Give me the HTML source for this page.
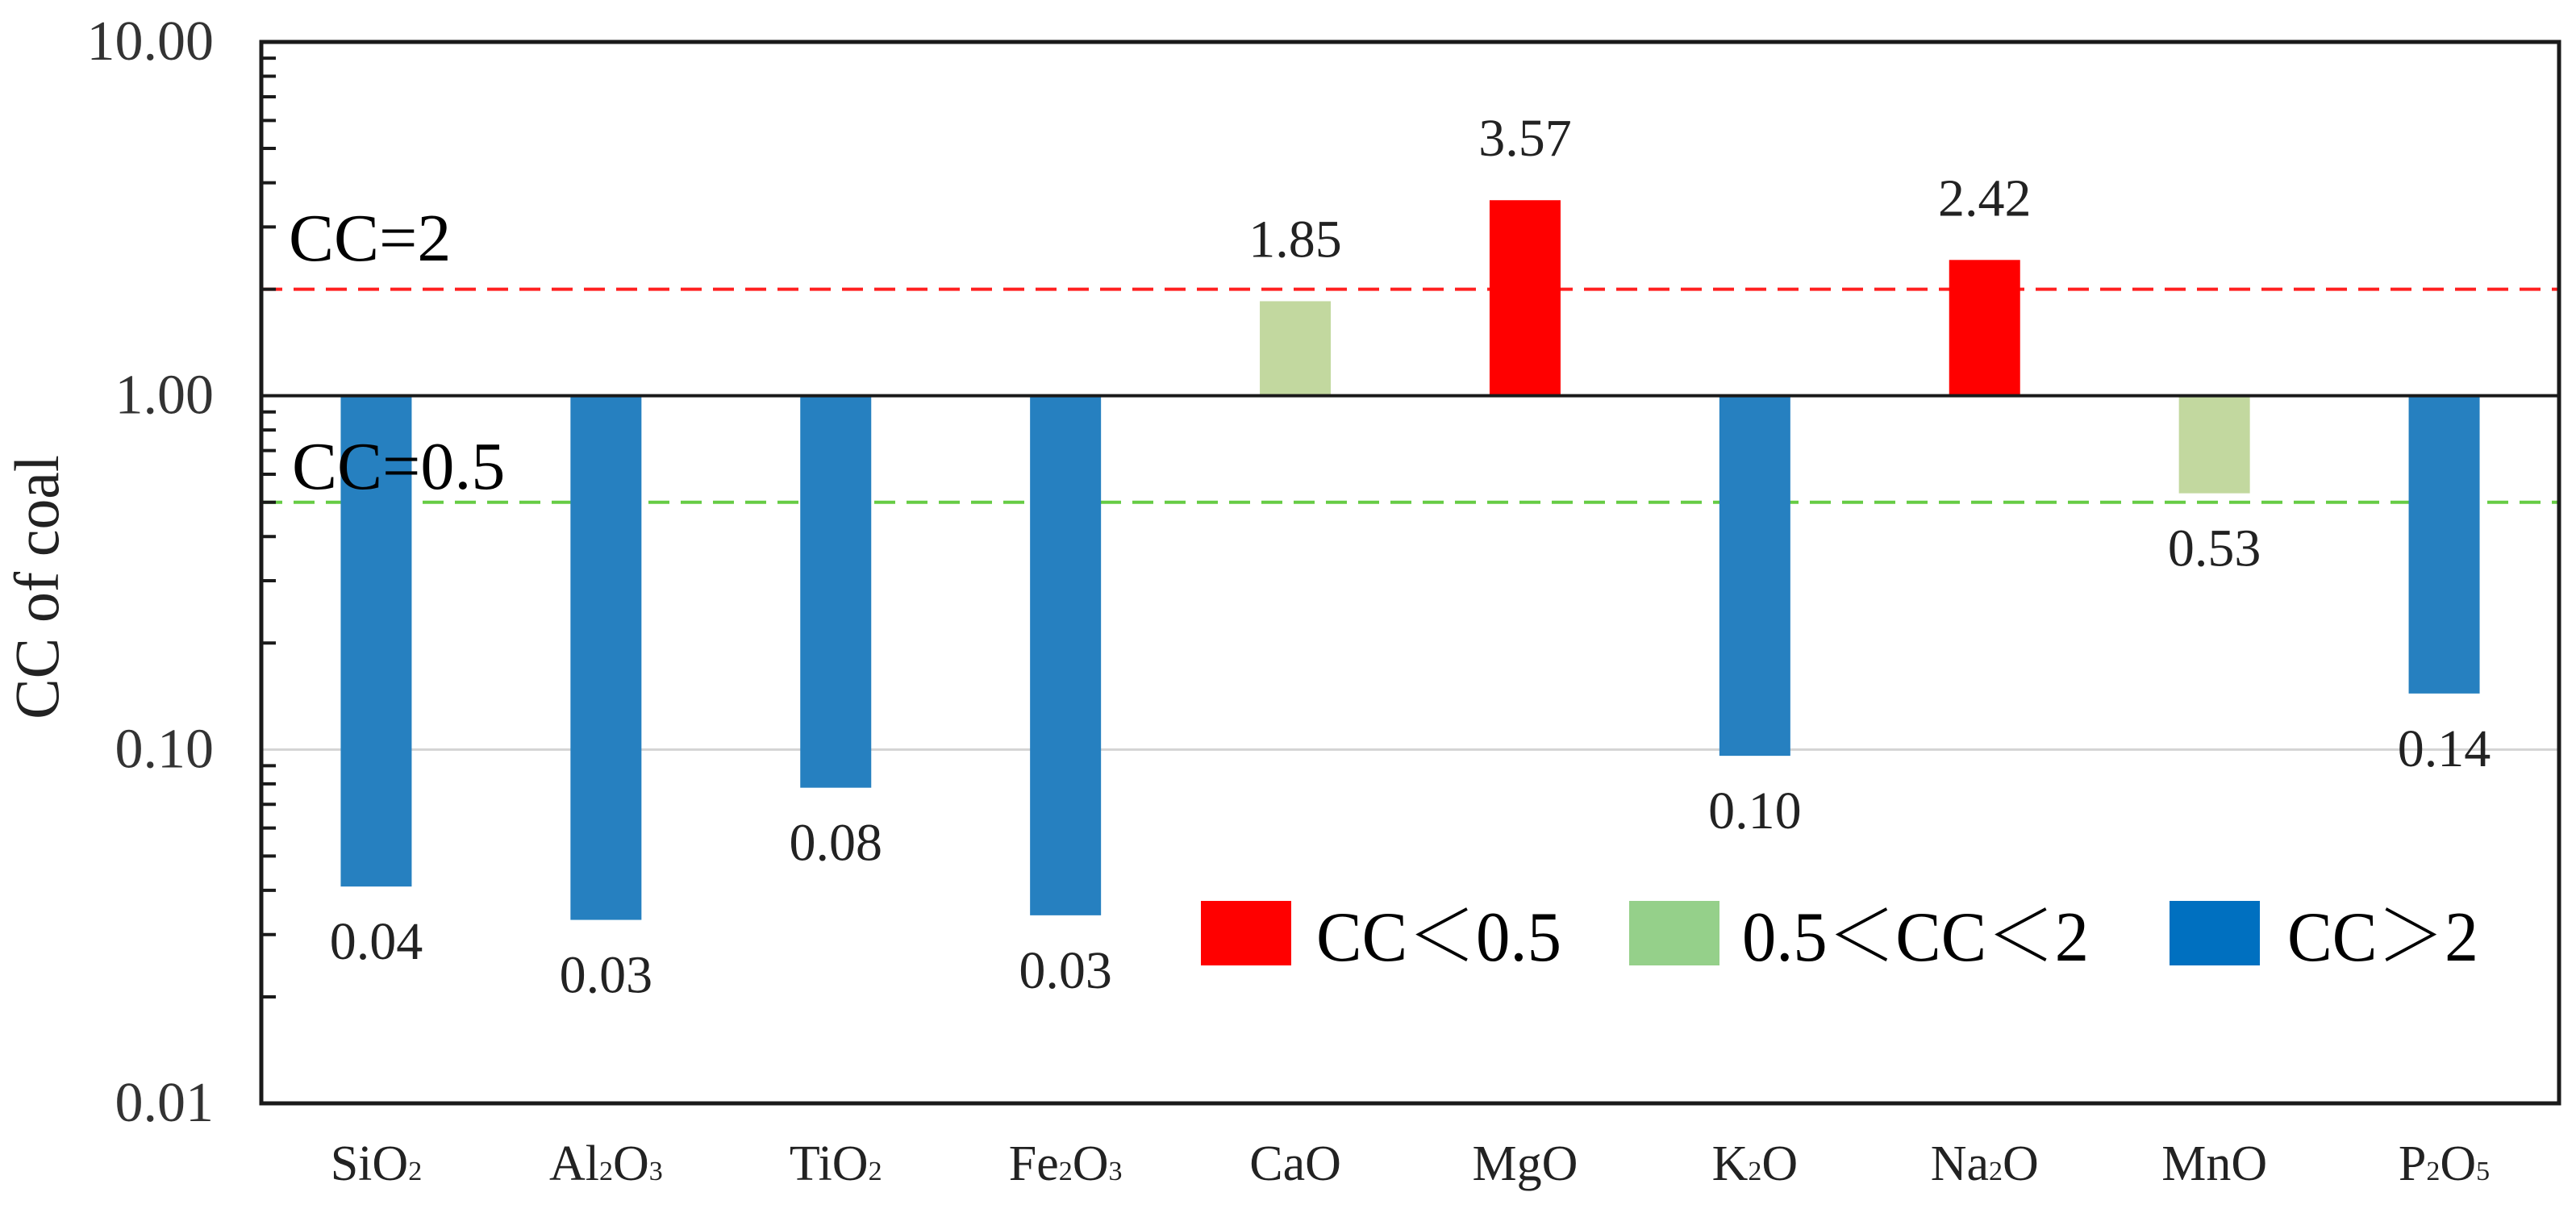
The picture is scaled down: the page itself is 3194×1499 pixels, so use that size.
<!DOCTYPE html>
<html><head><meta charset="utf-8"><title>CC of coal</title>
<style>
html,body{margin:0;padding:0;background:#fff;}
svg{display:block;}
text{font-family:"Liberation Serif","Noto Serif CJK SC",serif;}
</style></head>
<body>
<svg id="chart" width="3194" height="1499" viewBox="0 0 3194 1499" xmlns="http://www.w3.org/2000/svg">
<rect width="3194" height="1499" fill="#fff"/>
<g id="grid"></g>
<g id="bars"></g>
<g id="axes"></g>
<g id="labels"></g>
</svg>
<script>
const categories = ["SiO","Al","TiO","Fe","CaO","MgO","K","Na","MnO","P"];
const catHtml = [["SiO","2",""],["Al","2","O","3"],["TiO","2",""],["Fe","2","O","3"],["CaO"],["MgO"],["K","2","O"],["Na","2","O"],["MnO"],["P","2","O","5"]];
const values = [0.041, 0.033, 0.078, 0.034, 1.85, 3.57, 0.096, 2.42, 0.53, 0.144];
const colorClass = ["blue","blue","blue","blue","green","red","blue","red","green","blue"];
const yTicks = [10, 1, 0.1, 0.01];
const yTickLabels = ["10.00","1.00","0.10","0.01"];
const refLines = [2, 0.5];
const legendLabels = ["CC＜0.5","0.5＜CC＜2","CC＞2"];

const NS = "http://www.w3.org/2000/svg";
const L = 324, R = 3173, T = 52, B = 1368;
const band = (R - L) / categories.length;
const barW = 88;
const yMin = 0.01, yMax = 10;
function y(v){ return T + (Math.log10(yMax) - Math.log10(v)) / (Math.log10(yMax) - Math.log10(yMin)) * (B - T); }
function xc(i){ return L + band * (i + 0.5); }
const barFill = {blue:"#2680c0", red:"#ff0000", green:"#c2d89f"};
const legFill = {red:"#ff0000", green:"#95d08a", blue:"#0070c0"};
function mk(tag, attrs, parent){ const e = document.createElementNS(NS, tag); for (const k in attrs) e.setAttribute(k, attrs[k]); parent.appendChild(e); return e; }

const grid = document.getElementById('grid');
const bars = document.getElementById('bars');
const axes = document.getElementById('axes');
const labels = document.getElementById('labels');

let g = mk('line', {x1:L, x2:R, y1:y(0.1), y2:y(0.1), stroke:"#d4d4d4", "stroke-width":3}, grid);



const refColors = ["#ff2020","#66cc44"];
refLines.forEach((v, i) => {
  const l = mk('line', {x1:L, x2:R, y1:y(v), y2:y(v), stroke:refColors[i], "stroke-width":4, "stroke-dasharray":"26 14"}, grid);
  
  
});

values.forEach((v, i) => {
  const y1 = y(1), yv = y(v);
  const r = mk('rect', {x:xc(i) - barW/2, y:Math.min(y1, yv), width:barW, height:Math.abs(yv - y1), fill:barFill[colorClass[i]]}, bars);
  
  
  const up = v >= 1;
  const t = mk('text', {x:xc(i), y: up ? yv - 55 : yv + 90, "font-size":66, "text-anchor":"middle", fill:"#222"}, labels);
  t.textContent = v.toFixed(2);
  
  
});

let f = mk('rect', {x:L, y:T, width:R - L, height:B - T, fill:"none", stroke:"#1a1a1a", "stroke-width":5}, axes);


let base = mk('line', {x1:L, x2:R, y1:y(1), y2:y(1), stroke:"#1a1a1a", "stroke-width":4}, axes);



for (let d = -2; d < 1; d++) {
  for (let m = 2; m <= 9; m++) {
    const v = m * Math.pow(10, d);
    const tk = mk('line', {x1:L, x2:L + 18, y1:y(v), y2:y(v), stroke:"#1a1a1a", "stroke-width":4}, axes);
    
    
  }
}

yTicks.forEach((v, i) => {
  const t = mk('text', {x:265, y:y(v) + 22, "font-size":70, "text-anchor":"end", fill:"#333"}, axes);
  t.textContent = yTickLabels[i];
  
  
});

let yt = mk('text', {x:0, y:0, "font-size":78, "text-anchor":"middle", fill:"#222", transform:"translate(72,728) rotate(-90) scale(0.97,1)"}, axes);
yt.textContent = "CC of coal";



catHtml.forEach((parts, i) => {
  const t = mk('text', {x:xc(i), y:1463, "font-size":62, "text-anchor":"middle", fill:"#222"}, axes);
  parts.forEach((p, j) => {
    if (p === "") return;
    const s = mk('tspan', {}, t);
    if (j % 2 === 1) { s.setAttribute('font-size', 34); }
    s.textContent = p;
  });
  
  
});

let a1 = mk('text', {x:358, y:323, "font-size":84, fill:"#000"}, labels);
a1.textContent = "CC=2";


let a2 = mk('text', {x:362, y:606, "font-size":84, fill:"#000"}, labels);
a2.textContent = "CC=0.5";



const legSw = [1489, 2020, 2690];
const legTx = [1632, 2160, 2836];
const legKeys = ["red","green","blue"];
const legW = [304, 430, 237];
legendLabels.forEach((lab, i) => {
  const s = mk('rect', {x:legSw[i], y:1117, width:112, height:80, fill:legFill[legKeys[i]]}, labels);
  
  
  const t = mk('text', {x:legTx[i], y:1191, "font-size":88, fill:"#000", textLength:legW[i], lengthAdjust:"spacingAndGlyphs"}, labels);
  t.textContent = lab;
  
  
});
</script>
</body></html>
